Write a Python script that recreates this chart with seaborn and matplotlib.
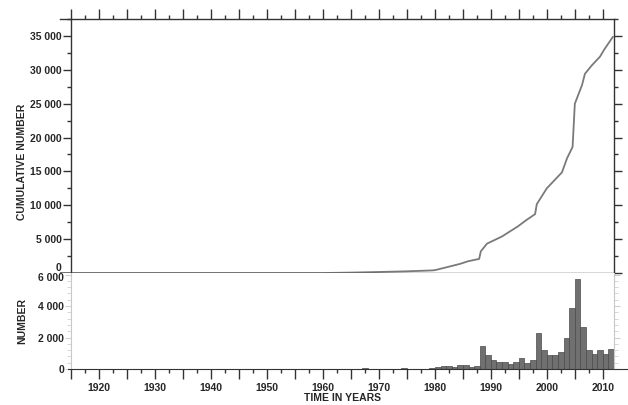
import numpy as np
import pandas as pd
import seaborn as sns
import matplotlib.pyplot as plt
import matplotlib.transforms as mtrans
from matplotlib.ticker import MultipleLocator, FuncFormatter

# Datos ---------------------------------------------------------------------

# número anual (histograma inferior)
hist_years = [1963, 1967, 1973, 1974, 1977,
              1979, 1980, 1981, 1982, 1983, 1984, 1985, 1986, 1987,
              1988, 1989, 1990, 1991, 1992, 1993, 1994, 1995, 1996, 1997,
              1998, 1999, 2000, 2001, 2002, 2003, 2004, 2005, 2006, 2007,
              2008, 2009, 2010, 2011]
hist_counts = [30, 60, 30, 40, 30,
               60, 130, 170, 170, 130, 240, 260, 130, 210,
               1440, 880, 560, 430, 430, 340, 470, 670, 370, 600,
               2300, 1225, 860, 860, 1050, 2000, 3870, 5740, 2690, 1180,
               950, 1180, 950, 1250]

# número acumulado (curva superior)
cum_years = [1913, 1960, 1965, 1970, 1975, 1979.5, 1980.0, 1982.1, 1984.5,
             1985.9, 1987.9, 1988.2, 1989.3, 1992.0, 1994.8, 1996.4, 1997.9,
             1998.2, 2000.0, 2002.7, 2003.6, 2004.6, 2005.0, 2006.3, 2006.8,
             2008.0, 2009.5, 2010.2, 2011.8]
cum_values = [0, 0, 60, 150, 250, 380, 420, 850, 1350,
              1730, 2080, 3200, 4330, 5400, 6870, 7850, 8690,
              10160, 12510, 14860, 16920, 18620, 24990, 27780, 29400,
              30620, 31940, 32920, 34870]

df_hist = pd.DataFrame({'year': hist_years, 'count': hist_counts})
df_cum = pd.DataFrame({'year': cum_years, 'value': cum_values})

# Figura --------------------------------------------------------------------

sns.set_style('ticks')
plt.rcParams['font.family'] = ['Liberation Sans', 'DejaVu Sans']
plt.rcParams['font.weight'] = 'bold'
plt.rcParams['axes.labelweight'] = 'bold'

fig = plt.figure(figsize=(6.28, 4.05), dpi=100)
ax1 = fig.add_axes([60 / 628, 132 / 405, 554 / 628, 254 / 405])
ax2 = fig.add_axes([60 / 628, 36 / 405, 554 / 628, 96 / 405])

dark = '#333333'
space_fmt = FuncFormatter(lambda v, p: f"{int(round(v)):,}".replace(",", " "))

# Curva acumulada
sns.lineplot(data=df_cum, x='year', y='value', ax=ax1, color='#7a7a7a', linewidth=1.3)
ax1.set_xlim(1913, 2012)
ax1.set_ylim(0, 37500)
ax1.spines['left'].set_position(('data', 1915))
for s in ax1.spines.values():
    s.set_color(dark)
    s.set_linewidth(1.0)
ax1.xaxis.set_major_locator(MultipleLocator(5))
ax1.xaxis.set_minor_locator(MultipleLocator(2.5))
ax1.tick_params(axis='x', which='both', bottom=False, top=True, labelbottom=False,
                direction='out', color=dark)
ax1.tick_params(axis='x', which='major', length=7, width=1)
ax1.tick_params(axis='x', which='minor', length=3, width=1)
ax1.yaxis.set_major_locator(MultipleLocator(5000))
ax1.yaxis.set_minor_locator(MultipleLocator(2500))
ax1.yaxis.set_major_formatter(space_fmt)
ax1.tick_params(axis='y', which='both', left=True, right=True, direction='out',
                color=dark, labelsize=7.5, pad=1)
ax1.tick_params(axis='y', which='major', length=6, width=1)
ax1.tick_params(axis='y', which='minor', length=3, width=1)
ax1.set_xlabel('')
ax1.set_ylabel('CUMULATIVE NUMBER', fontsize=7.5)

# Histograma anual
sns.histplot(data=df_hist, x='year', weights='count', binwidth=1, binrange=(1913, 2012),
             ax=ax2, color='#707070', edgecolor='#4a4a4a', linewidth=0.5, alpha=1)
ax2.set_xlim(1913, 2012)
ax2.set_ylim(0, 6100)
ax2.spines['left'].set_position(('data', 1915))
ax2.spines['top'].set_visible(False)
ax2.spines['left'].set_color('#c8c8c8')
ax2.spines['right'].set_visible(True)
ax2.spines['right'].set_color('#c8c8c8')
ax2.spines['bottom'].set_color(dark)
ax2.spines['bottom'].set_bounds(1914.5, 2014.5)
ax2.xaxis.set_major_locator(MultipleLocator(5))
ax2.xaxis.set_minor_locator(MultipleLocator(2.5))
ax2.xaxis.set_major_formatter(FuncFormatter(lambda v, p: f"{int(v)}" if int(v) % 10 == 0 else ""))
ax2.tick_params(axis='x', which='both', direction='out', color=dark, labelsize=7.5, pad=3)
ax2.tick_params(axis='x', which='major', length=7, width=1)
ax2.tick_params(axis='x', which='minor', length=3, width=1)
ax2.yaxis.set_major_locator(MultipleLocator(2000))
ax2.yaxis.set_minor_locator(MultipleLocator(400))
ax2.yaxis.set_major_formatter(space_fmt)
ax2.tick_params(axis='y', which='both', left=True, right=True, direction='out',
                color='#d0d0d0', labelsize=7.5, pad=1)
ax2.tick_params(axis='y', which='major', length=4, width=0.8)
ax2.tick_params(axis='y', which='minor', length=3, width=0.6)
ax2.set_xlabel('TIME IN YEARS', fontsize=7.5)
ax2.set_ylabel('NUMBER', fontsize=7.5)

ax1.yaxis.set_label_coords(-0.06, 0.437)
ax2.yaxis.set_label_coords(-0.06, 0.5)
ax2.xaxis.set_label_coords(0.51, -0.25)

# separar el "0" superior del "6 000" inferior
fig.canvas.draw()
up = mtrans.ScaledTranslation(0, 4 / 72, fig.dpi_scale_trans)
down = mtrans.ScaledTranslation(0, -2 / 72, fig.dpi_scale_trans)
for t in ax1.yaxis.get_major_ticks():
    if abs(t.get_loc()) < 1:
        t.label1.set_transform(t.label1.get_transform() + up)
for t in ax2.yaxis.get_major_ticks():
    if abs(t.get_loc() - 6000) < 1:
        t.label1.set_transform(t.label1.get_transform() + down)

fig.savefig('out.png', dpi=100)
